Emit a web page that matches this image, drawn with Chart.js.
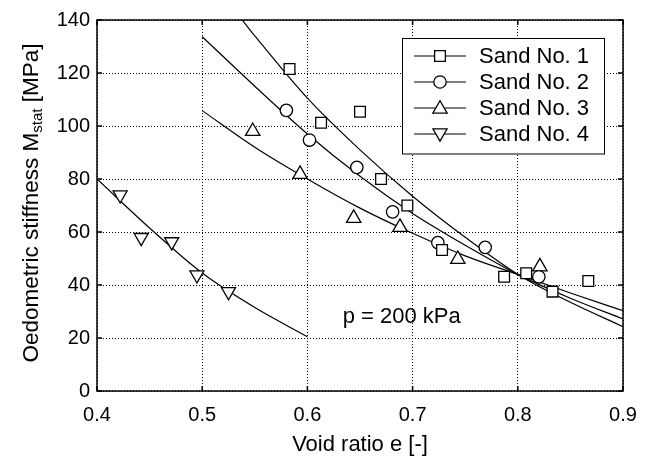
<!DOCTYPE html>
<html>
<head>
<meta charset="utf-8">
<script src="https://cdn.jsdelivr.net/npm/chart.js@4/dist/chart.umd.min.js"></script>
<style>
html,body{margin:0;padding:0;background:#fff;}
</style>
</head>
<body>
<canvas id="myChart" width="651" height="457"></canvas>
<script>
// 量測點 (void ratio e, M_stat)
var sand1E = [0.583, 0.613, 0.650, 0.670, 0.695, 0.728, 0.787, 0.808, 0.833, 0.867];
var sand1M = [121.5, 101.2, 105.4, 80.0, 70.0, 53.2, 43.1, 44.4, 37.5, 41.5];
var sand2E = [0.580, 0.602, 0.647, 0.681, 0.724, 0.769, 0.820];
var sand2M = [105.9, 94.7, 84.4, 67.6, 56.0, 54.2, 43.1];
var sand3E = [0.548, 0.593, 0.644, 0.688, 0.743, 0.821];
var sand3M = [98.0, 81.8, 65.2, 61.8, 49.7, 46.9];
var sand4E = [0.422, 0.442, 0.471, 0.495, 0.525];
var sand4M = [74.0, 57.9, 56.3, 43.8, 37.5];

// 擬合曲線 (從圖上讀的)
var fit1E = [0.538, 0.55, 0.6, 0.65, 0.7, 0.75, 0.8, 0.85, 0.9];
var fit1M = [140, 134, 110.5, 91, 73.5, 58, 44, 33.5, 24.3];
var fit2E = [0.5, 0.55, 0.6, 0.65, 0.7, 0.75, 0.8, 0.85, 0.9];
var fit2M = [133.7, 115, 97, 81, 67, 55, 44, 35, 27.2];
var fit3E = [0.5, 0.55, 0.6, 0.65, 0.7, 0.75, 0.8, 0.85, 0.9];
var fit3M = [105.8, 92, 80, 69, 59.5, 51, 44, 37, 30.3];
var fit4E = [0.4, 0.45, 0.5, 0.55, 0.6];
var fit4M = [80, 61.5, 44.5, 31.5, 20.5];

var sandNames = ['Sand No. 1', 'Sand No. 2', 'Sand No. 3', 'Sand No. 4'];
var xTicks = [0.4, 0.5, 0.6, 0.7, 0.8, 0.9];
var yTicks = [0, 20, 40, 60, 80, 100, 120, 140];

var FONT = '"Liberation Sans", Arial, Helvetica, sans-serif';

function pts(xs, ys){
  return xs.map(function(x, i){ return {x: x, y: ys[i]}; });
}

// marker styles
var markers = [
  {style: 'rect', r: 7.6, rot: 0},
  {style: 'circle', r: 6.2, rot: 0},
  {style: 'triangle', r: 8.3, rot: 0},
  {style: 'triangle', r: 8.1, rot: 180}
];

function scatterSet(i, xs, ys){
  return {
    label: sandNames[i],
    data: pts(xs, ys),
    showLine: false,
    pointStyle: markers[i].style,
    pointRadius: markers[i].r,
    pointHoverRadius: markers[i].r,
    pointRotation: markers[i].rot,
    pointBackgroundColor: '#fff',
    pointBorderColor: '#000',
    pointBorderWidth: 1.3,
    order: 0
  };
}
function fitSet(xs, ys){
  return {
    data: pts(xs, ys),
    showLine: true,
    borderColor: '#000',
    borderWidth: 1.2,
    pointRadius: 0,
    cubicInterpolationMode: 'monotone',
    fill: false,
    order: 1
  };
}

function drawMarker(ctx, m, x, y){
  var r = m.r;
  ctx.beginPath();
  if (m.style === 'rect') {
    var s = Math.SQRT1_2 * r;
    ctx.rect(x - s, y - s, 2 * s, 2 * s);
  } else if (m.style === 'circle') {
    ctx.arc(x, y, r, 0, Math.PI * 2);
  } else {
    var base = m.rot ? Math.PI / 2 : -Math.PI / 2;
    for (var k = 0; k < 3; k++) {
      var a = base + k * 2 * Math.PI / 3;
      var px = x + Math.cos(a) * r, py = y + Math.sin(a) * r;
      if (k === 0) ctx.moveTo(px, py); else ctx.lineTo(px, py);
    }
    ctx.closePath();
  }
  ctx.fillStyle = '#fff';
  ctx.fill();
  ctx.lineWidth = 1.3;
  ctx.strokeStyle = '#000';
  ctx.stroke();
}

var decorPlugin = {
  id: 'decor',
  afterDraw: function(chart){
    var ctx = chart.ctx, a = chart.chartArea;
    var xs = chart.scales.x, ys = chart.scales.y;
    ctx.save();
    // 外框 + 內側刻度
    ctx.strokeStyle = '#000';
    ctx.lineWidth = 1.5;
    ctx.strokeRect(a.left, a.top, a.right - a.left, a.bottom - a.top);
    ctx.beginPath();
    xTicks.forEach(function(v){
      var px = xs.getPixelForValue(v);
      ctx.moveTo(px, a.bottom); ctx.lineTo(px, a.bottom - 5);
      ctx.moveTo(px, a.top); ctx.lineTo(px, a.top + 5);
    });
    yTicks.forEach(function(v){
      var py = ys.getPixelForValue(v);
      ctx.moveTo(a.left, py); ctx.lineTo(a.left + 5, py);
      ctx.moveTo(a.right, py); ctx.lineTo(a.right - 5, py);
    });
    ctx.stroke();

    // 圖例
    var lx = 402.5, ly = 38.5, lw = 202, lh = 115.5;
    ctx.fillStyle = '#fff';
    ctx.fillRect(lx, ly, lw, lh);
    ctx.lineWidth = 1;
    ctx.strokeRect(lx, ly, lw, lh);
    ctx.font = '22px ' + FONT;
    ctx.textBaseline = 'middle';
    ctx.textAlign = 'left';
    sandNames.forEach(function(name, i){
      var rowY = 56 + i * 26;
      ctx.beginPath();
      ctx.moveTo(414, rowY); ctx.lineTo(466, rowY);
      ctx.lineWidth = 1.2; ctx.strokeStyle = '#000';
      ctx.stroke();
      drawMarker(ctx, markers[i], 440, rowY + (markers[i].style === 'triangle' ? (markers[i].rot ? -1 : 1) : 0));
      ctx.fillStyle = '#000';
      ctx.fillText(name, 479, rowY + 1);
    });

    // p = 200 kPa
    ctx.font = '22px ' + FONT;
    ctx.textAlign = 'center';
    ctx.textBaseline = 'middle';
    ctx.fillStyle = '#000';
    ctx.fillText('p = 200 kPa', xs.getPixelForValue(0.6896), ys.getPixelForValue(28));

    // x 軸標題
    ctx.fillText('Void ratio e [-]', (a.left + a.right) / 2, 445);

    // y 軸標題 (含下標)
    var big = '22.5px ' + FONT, small = '15px ' + FONT;
    var p1 = 'Oedometric stiffness M', p2 = 'stat', p3 = ' [MPa]';
    ctx.font = big; var w1 = ctx.measureText(p1).width, w3 = ctx.measureText(p3).width;
    ctx.font = small; var w2 = ctx.measureText(p2).width;
    var total = w1 + w2 + w3;
    ctx.translate(38, 203);
    ctx.rotate(-Math.PI / 2);
    ctx.textAlign = 'left';
    ctx.textBaseline = 'alphabetic';
    var sx = -total / 2;
    ctx.font = big; ctx.fillText(p1, sx, 0);
    ctx.font = small; ctx.fillText(p2, sx + w1, 4);
    ctx.font = big; ctx.fillText(p3, sx + w1 + w2, 0);
    ctx.restore();
  }
};

new Chart(document.getElementById('myChart'), {
  type: 'scatter',
  data: {
    datasets: [
      scatterSet(0, sand1E, sand1M),
      scatterSet(1, sand2E, sand2M),
      scatterSet(2, sand3E, sand3M),
      scatterSet(3, sand4E, sand4M),
      fitSet(fit1E, fit1M),
      fitSet(fit2E, fit2M),
      fitSet(fit3E, fit3M),
      fitSet(fit4E, fit4M)
    ]
  },
  options: {
    responsive: false,
    animation: false,
    events: [],
    layout: {padding: {left: 0, right: 28, top: 20, bottom: 0}},
    plugins: {legend: {display: false}, tooltip: {enabled: false}},
    scales: {
      x: {
        type: 'linear', min: 0.4, max: 0.9,
        afterBuildTicks: function(s){ s.ticks = xTicks.map(function(v){ return {value: v}; }); },
        afterFit: function(s){ s.height = 66; },
        grid: {color: '#000', lineWidth: 1, drawTicks: false},
        border: {display: false, dash: [1, 2]},
        ticks: {color: '#000', padding: 12, font: {family: FONT, size: 20},
          callback: function(v){ return v.toFixed(1); }}
      },
      y: {
        type: 'linear', min: 0, max: 140,
        afterBuildTicks: function(s){ s.ticks = yTicks.map(function(v){ return {value: v}; }); },
        afterFit: function(s){ s.width = 97; },
        grid: {color: '#000', lineWidth: 1, drawTicks: false},
        border: {display: false, dash: [1, 2]},
        ticks: {color: '#000', padding: 7, font: {family: FONT, size: 20}}
      }
    }
  },
  plugins: [decorPlugin]
});
</script>
</body>
</html>
